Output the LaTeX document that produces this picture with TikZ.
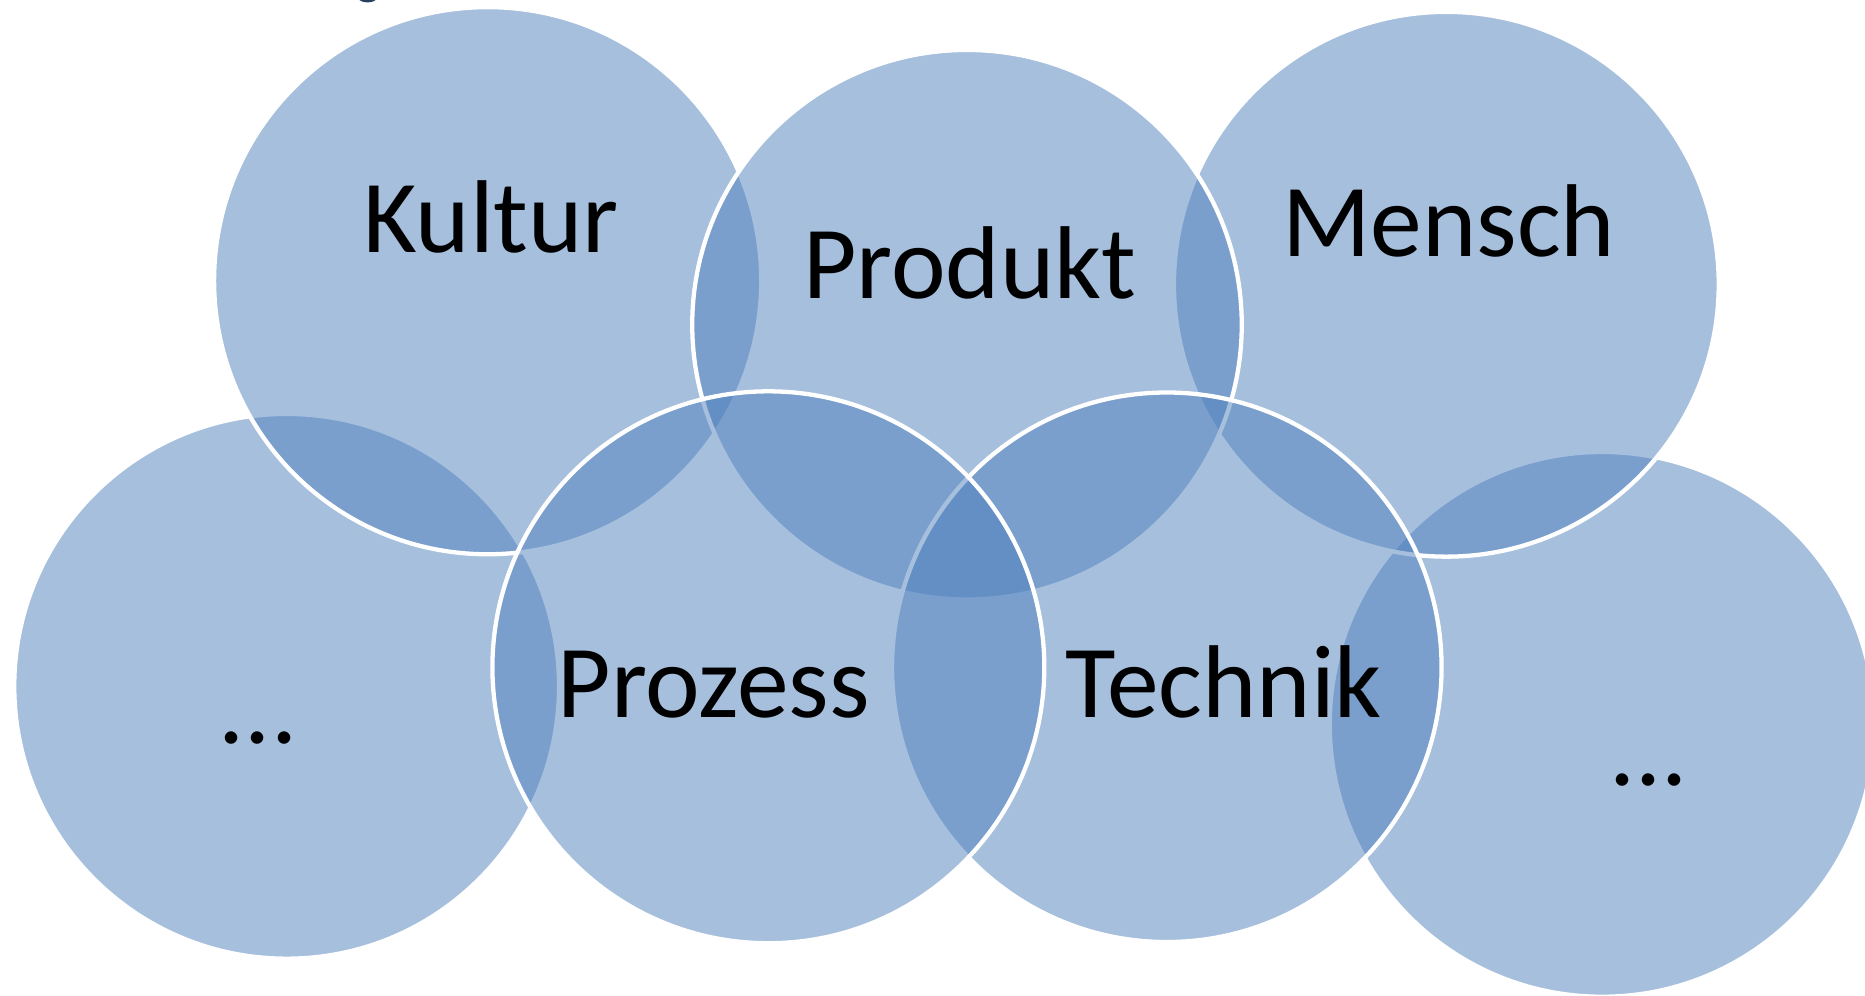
\documentclass[tikz,border=0pt]{standalone}
\usepackage{fontspec}
\setmainfont{Carlito}
\usetikzlibrary{shapes.geometric}
\definecolor{vennblue}{RGB}{79,129,189}
\definecolor{capblue}{RGB}{38,64,96}
\begin{document}
\begin{tikzpicture}[x=1pt,y=-1pt,
  venn/.style={circle, inner sep=0pt, outer sep=0pt, fill=vennblue, fill opacity=0.5, draw=white, draw opacity=1, line width=3.6pt},
  lbl/.style={anchor=base, inner sep=0pt, text=black, font=\fontsize{87}{100}\selectfont}]
\useasboundingbox (0,0) rectangle (1568,837);
\fill[white] (0,0) rectangle (1568,837);
% small cut-off mark at the top
\node[ellipse, fill=capblue, minimum width=24pt, minimum height=20pt, inner sep=0pt] (cap) at (309,-8) {};
% circles, in drawing order
\node[venn, minimum size=458pt] (dotsL)   at (241,577) {};
\node[venn, minimum size=458pt] (dotsR)   at (1347,609) {};
\node[venn, minimum size=460pt] (kultur)  at (410,236) {};
\node[venn, minimum size=458pt] (mensch)  at (1216,239) {};
\node[venn, minimum size=462pt] (produkt) at (813,273) {};
\node[venn, minimum size=462pt] (technik) at (981,561) {};
\node[venn, minimum size=464pt] (prozess) at (646,561) {};
% labels
\node[lbl] (tKultur)  at (413,212) {Kultur};
\node[lbl] (tProdukt) at (815,251) {Produkt};
\node[lbl] (tMensch)  at (1218,216) {Mensch};
\node[lbl] (tProzess) at (600,603) {Prozess};
\node[lbl] (tTechnik) at (1029,603) {Technik};
\node[lbl] (tDotsL)   at (217,625) {...};
\node[lbl] (tDotsR)   at (1386,660) {...};
\end{tikzpicture}
\end{document}
